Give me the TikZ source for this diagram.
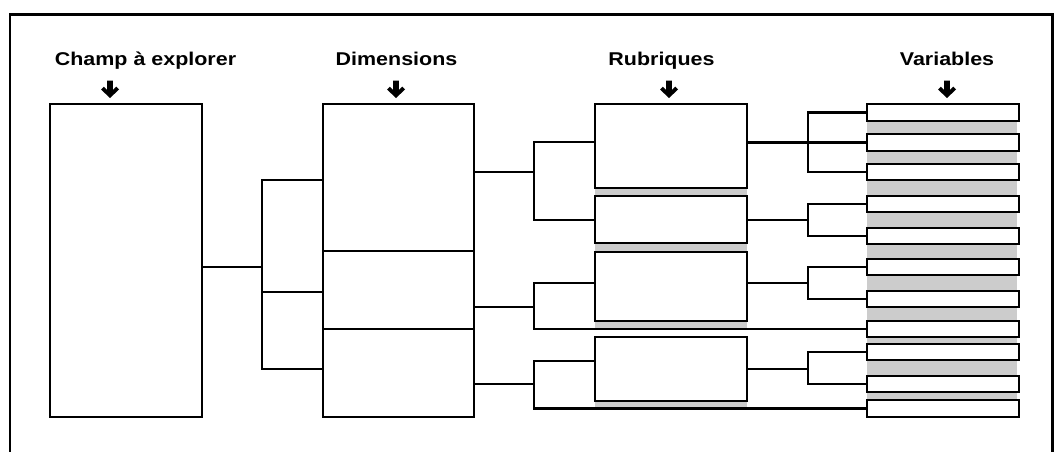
\documentclass[tikz,border=0pt]{standalone}
\usepackage{fontspec}
\setmainfont{Liberation Sans}
\begin{document}
\begin{tikzpicture}[x=1pt,y=-1pt,line join=miter,
  box/.style={draw,line width=2.8pt,fill=white,inner sep=0pt,outer sep=0pt,anchor=north west},
  vbox/.style={box,minimum width=152pt,minimum height=#1},
  link/.style={line width=2.3pt},
  shadow/.style={fill=black!20,draw=none,inner sep=0pt,outer sep=0pt,anchor=north west},
  head/.style={font=\bfseries\fontsize{18.5}{20}\selectfont,anchor=base,inner sep=0pt}]
\useasboundingbox (0,0) rectangle (1055,452);

% outer frame
\draw[line width=2.3pt] (10,452) -- (10,14.5) -- (1052.5,14.5) -- (1052.5,452);

% column headings with their down arrows
\newcommand\downarrowat[1]{%
  \fill (#1,98) -- ++(9,-8.5) -- ++(-2.8,-2.8) -- ++(-3.4,3.4) -- ++(0,-9.5)
    -- ++(-5.6,0) -- ++(0,9.5) -- ++(-3.4,-3.4) -- ++(-2.8,2.8) -- cycle;}
\node[head] (hchamp) at (145.5,66) {\scalebox{1.16}[1]{Champ à explorer}};
\node[head] (hdim)   at (396.5,66) {\scalebox{1.16}[1]{Dimensions}};
\node[head] (hrub)   at (661.5,66) {\scalebox{1.16}[1]{Rubriques}};
\node[head] (hvar)   at (947,66)   {\scalebox{1.16}[1]{Variables}};
\downarrowat{110}
\downarrowat{396}
\downarrowat{669}
\downarrowat{947}

% field to explore
\node[box,minimum width=152pt,minimum height=313pt] (champ) at (50,104) {};

% dimensions: one column split in three
\node[box,minimum width=151pt,minimum height=147pt] (d1) at (323,104) {};
\node[box,minimum width=151pt,minimum height=78pt]  (d2) at (323,251) {};
\node[box,minimum width=151pt,minimum height=88pt]  (d3) at (323,329) {};

% headings (rubriques) with grey band under each
\node[shadow,minimum width=152pt,minimum height=8pt] (s1) at (595,188) {};
\node[shadow,minimum width=152pt,minimum height=8pt] (s2) at (595,243) {};
\node[shadow,minimum width=152pt,minimum height=8pt] (s3) at (595,321) {};
\node[shadow,minimum width=152pt,minimum height=7pt] (s4) at (595,401) {};
\node[box,minimum width=152pt,minimum height=84pt] (r1) at (595,104) {};
\node[box,minimum width=152pt,minimum height=47pt] (r2) at (595,196) {};
\node[box,minimum width=152pt,minimum height=69pt] (r3) at (595,252) {};
\node[box,minimum width=152pt,minimum height=64pt] (r4) at (595,337) {};

% variables on a grey column
\node[shadow,minimum width=150pt,minimum height=313pt] (vbg) at (867,104) {};
\node[vbox=17pt] (v1)  at (867,104) {};
\node[vbox=17pt] (v2)  at (867,134) {};
\node[vbox=16pt] (v3)  at (867,164) {};
\node[vbox=16pt] (v4)  at (867,196) {};
\node[vbox=16pt] (v5)  at (867,228) {};
\node[vbox=16pt] (v6)  at (867,259) {};
\node[vbox=16pt] (v7)  at (867,291) {};
\node[vbox=16pt] (v8)  at (867,321) {};
\node[vbox=16pt] (v9)  at (867,344) {};
\node[vbox=16pt] (v10) at (867,376) {};
\node[vbox=17pt] (v11) at (867,400) {};

% field -> dimensions
\coordinate (j0) at (262,267);
\draw[link] (champ.east |- j0) -- (j0);
\draw[link] (d1.west |- 0,180) -| (j0) |- (d3.west |- 0,369);
\draw[link] (j0 |- 0,292) -- (d2.west |- 0,292);

% dimensions -> headings
\coordinate (j1) at (534,172);
\coordinate (j2) at (534,307);
\coordinate (j3) at (534,384);
\draw[link] (d1.east |- j1) -- (j1);
\draw[link] (r1.west |- 0,142) -| (j1) |- (r2.west |- 0,220);
\draw[link] (d2.east |- j2) -- (j2);
\draw[link] (r3.west |- 0,283) -| (j2) |- (v8.west);
\draw[link] (d3.east |- j3) -- (j3);
\draw[link] (r4.west |- 0,361) -| (j3) |- (v11.west);

% headings -> variables
\coordinate (k1) at (808,142.5);
\coordinate (k2) at (808,220);
\coordinate (k3) at (808,283);
\coordinate (k4) at (808,369);
\draw[link] (r1.east |- v2.west) -- (v2.west);
\draw[link] (v1.west) -| (k1) |- (v3.west);
\draw[link] (r2.east |- k2) -- (k2);
\draw[link] (v4.west) -| (k2) |- (v5.west);
\draw[link] (r3.east |- k3) -- (k3);
\draw[link] (v6.west) -| (k3) |- (v7.west);
\draw[link] (r4.east |- k4) -- (k4);
\draw[link] (v9.west) -| (k4) |- (v10.west);
\end{tikzpicture}
\end{document}
